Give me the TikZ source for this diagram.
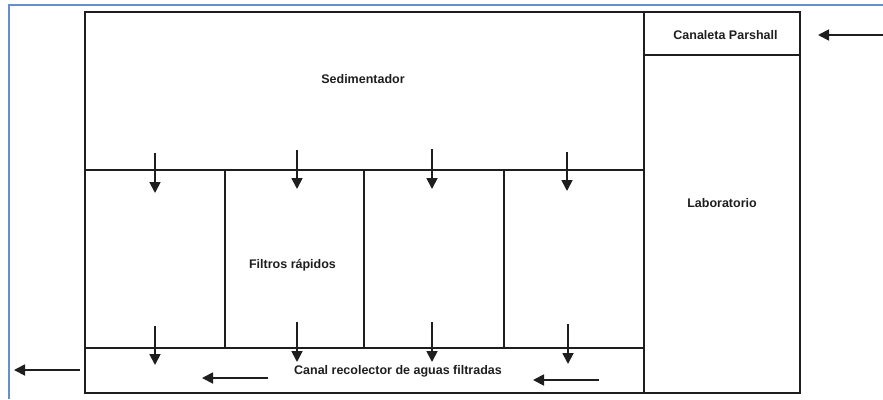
\documentclass[tikz,border=0pt]{standalone}
\usepackage{fontspec}
\setmainfont{Liberation Sans}
\usetikzlibrary{arrows.meta}
\definecolor{framebl}{RGB}{100,145,205}
\definecolor{ink}{RGB}{30,30,30}
\begin{document}
\begin{tikzpicture}[x=1pt,y=-1pt,
  wall/.style={draw=ink, line width=2pt, inner sep=0pt, outer sep=0pt},
  outer/.style={draw=ink, line width=2.6pt, inner sep=0pt, outer sep=0pt},
  flow/.style={draw=ink, line width=1.8pt, -{Triangle[width=11pt,length=11pt]}},
  lbl/.style={font=\fontsize{12.5}{14}\selectfont\bfseries, text=ink, inner sep=0pt}]
\useasboundingbox (0,0) rectangle (883,399);
% blue page frame
\draw[draw=framebl, line width=2pt] (9,399) -- (9,5) -- (883,5);
% zones
\node[wall, minimum width=559pt, minimum height=158pt] (sed) at (364.5,91) {};
\node[wall, minimum width=140pt, minimum height=178pt] (f1) at (155,259) {};
\node[wall, minimum width=139pt, minimum height=178pt] (f2) at (294.5,259) {};
\node[wall, minimum width=140pt, minimum height=178pt] (f3) at (434,259) {};
\node[wall, minimum width=140pt, minimum height=178pt] (f4) at (574,259) {};
\node[wall, minimum width=559pt, minimum height=45pt] (canal) at (364.5,370.5) {};
\node[wall, minimum width=156pt, minimum height=43pt] (parshall) at (722,33.5) {};
\node[wall, minimum width=156pt, minimum height=338pt] (lab) at (722,224) {};
\node[outer, minimum width=715pt, minimum height=381pt] (plant) at (442.5,202.5) {};
% labels
\node[lbl] (tsed) at (363,79) {Sedimentador};
\node[lbl] (tfil) at (292.5,265) {Filtros rápidos};
\node[lbl] (tlab) at (722,203) {Laboratorio};
\node[lbl] (tpar) at (725.5,35) {Canaleta Parshall};
\node[lbl] (tcan) at (398,371) {Canal recolector de aguas filtradas};
% arrow end points
\coordinate (a1s) at (155,153); \coordinate (a1e) at (155,193);
\coordinate (a2s) at (297,150); \coordinate (a2e) at (297,189);
\coordinate (a3s) at (432,149); \coordinate (a3e) at (432,189);
\coordinate (a4s) at (567,152); \coordinate (a4e) at (567,191);
\coordinate (b1s) at (155,326); \coordinate (b1e) at (155,365);
\coordinate (b2s) at (297,322); \coordinate (b2e) at (297,362);
\coordinate (b3s) at (432,322); \coordinate (b3e) at (432,362);
\coordinate (b4s) at (568,324); \coordinate (b4e) at (568,364);
\coordinate (c1s) at (268,378); \coordinate (c1e) at (202,378);
\coordinate (c2s) at (599,380); \coordinate (c2e) at (533,380);
\coordinate (outs) at (80,370); \coordinate (oute) at (14,370);
\coordinate (ins) at (883,35); \coordinate (ine) at (818,35);
% flows
\foreach \s/\e in {a1s/a1e,a2s/a2e,a3s/a3e,a4s/a4e,b1s/b1e,b2s/b2e,b3s/b3e,b4s/b4e,c1s/c1e,c2s/c2e,outs/oute,ins/ine}
  \draw[flow] (\s) -- (\e);
\end{tikzpicture}
\end{document}
